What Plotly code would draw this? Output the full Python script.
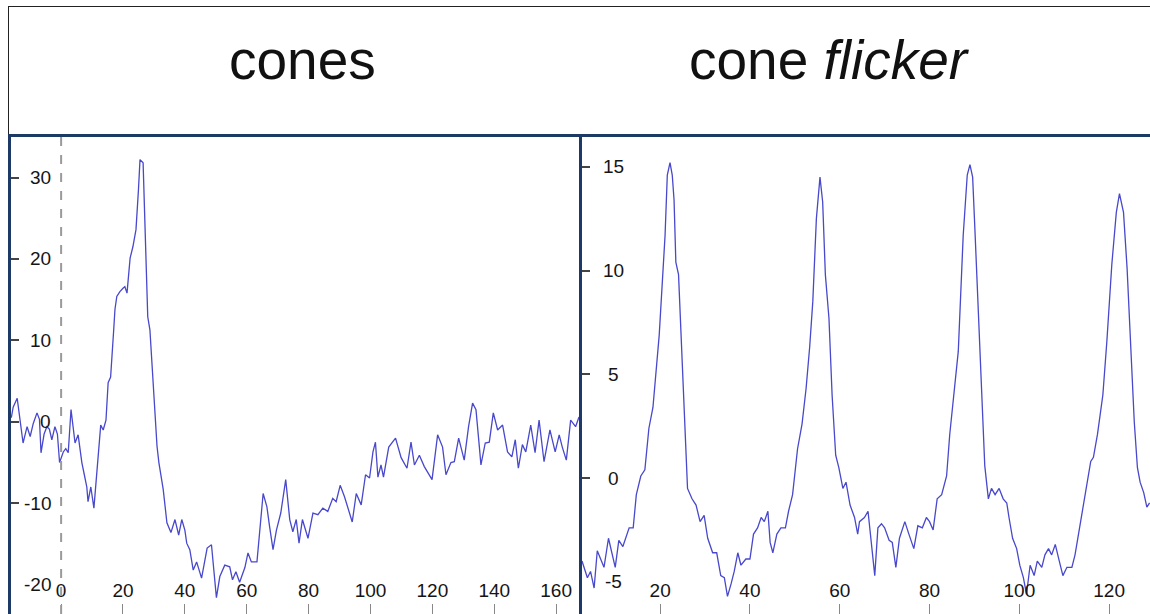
import plotly.graph_objects as go

# ---- data: left panel "cones" ----
cones_t = [-16.1, -15.5, -14.2, -13.2, -12.3, -11.0, -10.0, -9.0, -7.8, -7.0, -6.5, -5.5, -4.6, -3.8, -3.0,
           -2.0, -1.2, -0.5, 0.7, 1.5, 2.3, 3.2, 4.0, 4.5, 5.5, 6.7, 7.5, 8.3, 8.7, 9.6, 10.6, 11.3, 12.0,
           12.8, 13.6, 14.5, 15.2, 16.0, 17.0, 17.4, 18.0, 19.0, 20.0, 20.6, 21.3, 22.3, 23.2, 24.2, 25.0,
           25.5, 26.5, 27.1, 28.0, 28.7, 29.8, 31.0, 31.6, 33.0, 34.2, 35.5, 36.8, 38.0, 39.0, 40.0, 40.6,
           41.6, 42.7, 43.8, 45.4, 47.2, 48.6, 50.2, 51.3, 52.9, 54.5, 55.4, 56.5, 57.7, 59.4, 60.4, 61.5,
           63.3, 65.3, 66.5, 67.4, 68.5, 69.6, 71.0, 72.6, 73.9, 74.9, 76.0, 76.9, 78.0, 79.8, 81.4, 83.0,
           84.6, 86.2, 87.8, 88.9, 90.2, 91.6, 92.7, 94.1, 95.4, 97.0, 98.4, 99.7, 100.8, 101.6, 102.4,
           103.4, 104.2, 105.9, 108.1, 109.9, 111.8, 113.1, 114.2, 115.8, 117.4, 119.9, 121.7, 123.3, 124.4,
           126.0, 127.1, 128.5, 130.3, 131.7, 133.0, 134.1, 135.2, 135.7, 137.1, 138.4, 139.7, 141.1, 142.7,
           144.3, 145.7, 146.8, 147.8, 149.1, 150.2, 151.8, 153.2, 154.5, 156.1, 158.0, 159.7, 161.0, 162.0,
           163.3, 164.7, 166.3, 167.4]
cones_v = [0.5, 1.8, 2.9, 0.0, -2.6, -0.6, -1.8, -0.2, 1.1, 0.3, -3.8, -1.5, -0.6, -0.9, -2.2,
           -0.6, -1.5, -5.0, -3.7, -3.3, -3.8, 1.5, -1.5, -2.6, -1.6, -5.0, -6.5, -8.0, -9.8, -8.0, -10.6, -7.5, -4.3,
           -0.4, -1.0, 0.2, 4.8, 5.5, 11.3, 13.8, 15.4, 16.0, 16.4, 16.6, 15.8, 20.1, 21.5, 23.6, 28.5,
           32.2, 31.8, 23.6, 12.9, 11.3, 4.0, -3.0, -5.0, -8.3, -12.4, -13.6, -12.0, -13.9, -12.0, -13.3, -14.9,
           -15.7, -18.2, -17.2, -19.2, -15.5, -15.1, -21.6, -19.0, -17.6, -17.8, -19.4, -18.4, -19.7, -17.9, -16.1, -17.2,
           -17.2, -8.8, -10.4, -12.9, -15.7, -13.3, -11.2, -7.1, -12.0, -13.5, -12.0, -14.9, -12.0, -14.3, -11.2, -11.4,
           -10.6, -11.0, -9.4, -9.8, -7.8, -9.2, -10.6, -12.3, -8.8, -10.2, -6.5, -6.9, -3.7, -2.5, -6.8,
           -5.3, -6.8, -3.1, -2.0, -4.4, -5.7, -2.5, -5.3, -4.1, -5.5, -7.1, -1.6, -3.1, -6.5,
           -5.0, -4.9, -2.0, -4.7, -0.6, 2.3, 1.5, -3.1, -5.3, -2.6, -2.5, 1.1, -1.0, -0.4,
           -3.7, -4.3, -2.2, -5.7, -2.8, -3.7, -0.4, -3.8, 0.2, -4.9, -1.0, -3.7, -1.6, -3.1,
           -4.7, 0.2, -0.6, 0.6]

# ---- data: right panel "cone flicker" ----
flick_t = [2.6, 3.0, 3.8, 4.5, 5.3, 6.0, 6.8, 7.5, 8.5, 9.4, 10.0, 10.8, 11.7, 13.1, 14.0, 14.7, 15.7, 16.6,
           17.5, 18.4, 19.8, 21.1, 21.6, 22.2, 22.7, 23.1, 23.5, 24.1, 25.0, 25.6, 26.1, 27.1, 28.0, 28.9,
           29.8, 30.6, 31.7, 32.6, 33.5, 34.3, 35.0, 35.8, 36.5, 37.3, 38.0, 39.1, 40.0, 40.8, 41.7, 42.5,
           43.2, 44.0, 44.5, 45.1, 46.0, 46.9, 47.9, 48.6, 49.5, 50.6, 51.6, 52.5, 53.3, 54.0, 54.8, 55.6,
           56.2, 56.8, 57.6, 58.3, 59.1, 59.8, 60.7, 61.4, 62.3, 63.3, 64.0, 64.4, 65.5, 66.3, 67.0, 67.8,
           68.5, 69.3, 70.0, 71.0, 71.7, 72.5, 73.3, 74.5, 75.4, 76.5, 77.4, 78.4, 79.3, 80.0, 80.8, 81.7,
           82.7, 83.8, 84.5, 85.6, 86.4, 87.5, 88.4, 89.0, 89.6, 90.1, 90.6, 91.4, 92.3, 93.1, 93.8, 94.6,
           95.5, 96.4, 97.2, 97.7, 98.5, 99.4, 100.1, 100.9, 101.6, 102.4, 103.3, 104.0, 105.0, 105.7, 106.5,
           107.2, 108.0, 108.9, 109.7, 110.6, 111.7, 112.4, 113.2, 113.9, 115.0, 115.9, 116.5, 117.4, 118.6,
           119.5, 120.6, 121.6, 122.3, 123.2, 124.0, 124.7, 125.6, 126.3, 126.9, 127.7, 128.4, 129.0]
flick_v = [-4.0, -4.3, -4.8, -4.5, -5.3, -3.5, -3.9, -4.3, -2.9, -3.7, -4.3, -3.0, -3.3, -2.4, -2.4, -0.8, 0.1, 0.4,
           2.4, 3.4, 6.9, 11.7, 14.6, 15.2, 14.6, 13.4, 10.4, 9.8, 5.3, 2.4, -0.5, -1.0, -1.3, -2.1,
           -1.8, -2.9, -3.6, -3.6, -4.7, -4.8, -5.7, -5.1, -4.5, -3.6, -4.2, -3.9, -3.9, -2.7, -2.4, -1.9,
           -2.1, -1.6, -3.1, -3.6, -2.7, -2.4, -2.4, -1.6, -0.8, 1.4, 2.6, 4.3, 6.3, 8.5, 12.5, 14.5,
           13.3, 9.8, 7.7, 4.0, 1.1, 0.5, -0.5, -0.2, -1.3, -1.9, -2.7, -2.1, -1.9, -1.6, -2.9, -4.7,
           -2.4, -2.2, -2.4, -3.0, -3.1, -4.3, -2.9, -2.1, -2.7, -3.4, -2.3, -2.4, -1.9, -2.1, -2.5, -1.0,
           -0.8, 0.1, 2.1, 4.3, 6.1, 11.7, 14.6, 15.1, 14.5, 12.0, 9.4, 5.3, 0.6, -1.0, -0.5, -0.8,
           -0.5, -1.0, -1.2, -1.9, -2.9, -3.4, -4.2, -4.8, -5.6, -4.2, -4.7, -4.0, -4.3, -3.7, -3.4,
           -3.7, -3.2, -4.0, -4.7, -4.3, -4.3, -3.7, -2.7, -1.9, -0.5, 0.8, 1.0, 2.1, 4.0,
           6.6, 10.3, 12.8, 13.7, 12.8, 10.1, 6.6, 2.7, 0.5, -0.2, -0.7, -1.4, -1.2]

left_xticks = [0, 20, 40, 60, 80, 100, 120, 140, 160]
left_yticks = [-20, -10, 0, 10, 20, 30]
right_xticks = [20, 40, 60, 80, 100, 120]
right_yticks = [-5, 0, 5, 10, 15]
titles = ["cones", "cone <i>flicker</i>"]

W, H = 1150, 614
LINE = "#4848cc"
NAVY = "#1d3a66"
FONT = "Liberation Sans, Arial, sans-serif"

def px_x(p):
    return p / W

def px_y(p):
    return 1 - p / H

fig = go.Figure()
fig.add_trace(go.Scatter(x=cones_t, y=cones_v, mode="lines", line=dict(color=LINE, width=1.3),
                         xaxis="x", yaxis="y", showlegend=False))
fig.add_trace(go.Scatter(x=flick_t, y=flick_v, mode="lines", line=dict(color=LINE, width=1.3),
                         xaxis="x2", yaxis="y2", showlegend=False))

ydom = [0, px_y(136)]
tickfont = dict(family=FONT, size=19, color="#151515")

common_x = dict(showgrid=False, zeroline=False, ticks="inside", ticklen=10, tickwidth=1,
                tickcolor="#888", ticklabelposition="inside", ticklabelstandoff=4,
                tickfont=tickfont, showline=False)
# y tick labels are drawn as annotations below (Plotly would hide the lowest one
# where it meets the inside x labels)
common_y = dict(showgrid=False, zeroline=False, ticks="inside", ticklen=8, tickwidth=1.5,
                tickcolor="#444", showticklabels=False,
                showline=True, linecolor=NAVY, linewidth=3)

fig.update_layout(
    width=W, height=H,
    margin=dict(l=0, r=0, t=0, b=0),
    paper_bgcolor="white", plot_bgcolor="white",
    xaxis=dict(domain=[px_x(11), px_x(579)], range=[-16.2, 167.4], tickvals=left_xticks,
               anchor="y", **common_x),
    yaxis=dict(domain=ydom, range=[-23.6, 35.1], tickvals=left_yticks, anchor="x", **common_y),
    xaxis2=dict(domain=[px_x(582), 1], range=[2.6, 129.1], tickvals=right_xticks,
                anchor="y2", **common_x),
    yaxis2=dict(domain=ydom, range=[-6.55, 16.48], tickvals=right_yticks, anchor="x2", **common_y),
)

# y tick labels, positioned by the y axes' scales
for v in left_yticks:
    fig.add_annotation(text=str(v), xref="x domain", yref="y", x=0, y=v, xshift=42,
                       xanchor="right", yanchor="middle", showarrow=False, font=tickfont)
for v in right_yticks:
    fig.add_annotation(text=str(v), xref="x2 domain", yref="y2", x=0, y=v, xshift=31,
                       xanchor="center", yanchor="middle", showarrow=False, font=tickfont)

shapes = [
    # outer thin frame of header
    dict(type="line", xref="paper", yref="paper", x0=px_x(8), x1=1, y0=px_y(6.5), y1=px_y(6.5),
         line=dict(color="#222", width=1)),
    dict(type="line", xref="paper", yref="paper", x0=px_x(8.5), x1=px_x(8.5), y0=px_y(6), y1=px_y(136),
         line=dict(color="#222", width=1)),
    # navy separator under the titles
    dict(type="line", xref="paper", yref="paper", x0=px_x(8), x1=1, y0=px_y(135.5), y1=px_y(135.5),
         line=dict(color=NAVY, width=3)),
    # dashed stimulus onset at t = 0
    dict(type="line", xref="x", yref="y domain", x0=0, x1=0, y0=0, y1=1,
         line=dict(color="#9a9a9a", width=2, dash="dash")),
]
fig.update_layout(shapes=shapes)

fig.add_annotation(text=titles[0], x=px_x(302), y=px_y(60), xref="paper", yref="paper",
                   showarrow=False, xanchor="center", yanchor="middle",
                   font=dict(family=FONT, size=55, color="#111"))
fig.add_annotation(text=titles[1], x=px_x(829), y=px_y(60), xref="paper", yref="paper",
                   showarrow=False, xanchor="center", yanchor="middle",
                   font=dict(family=FONT, size=55, color="#111"))

fig.write_html("out.html", config={"displayModeBar": False},
               post_script="document.body.style.margin='0';document.body.style.overflow='hidden';")
